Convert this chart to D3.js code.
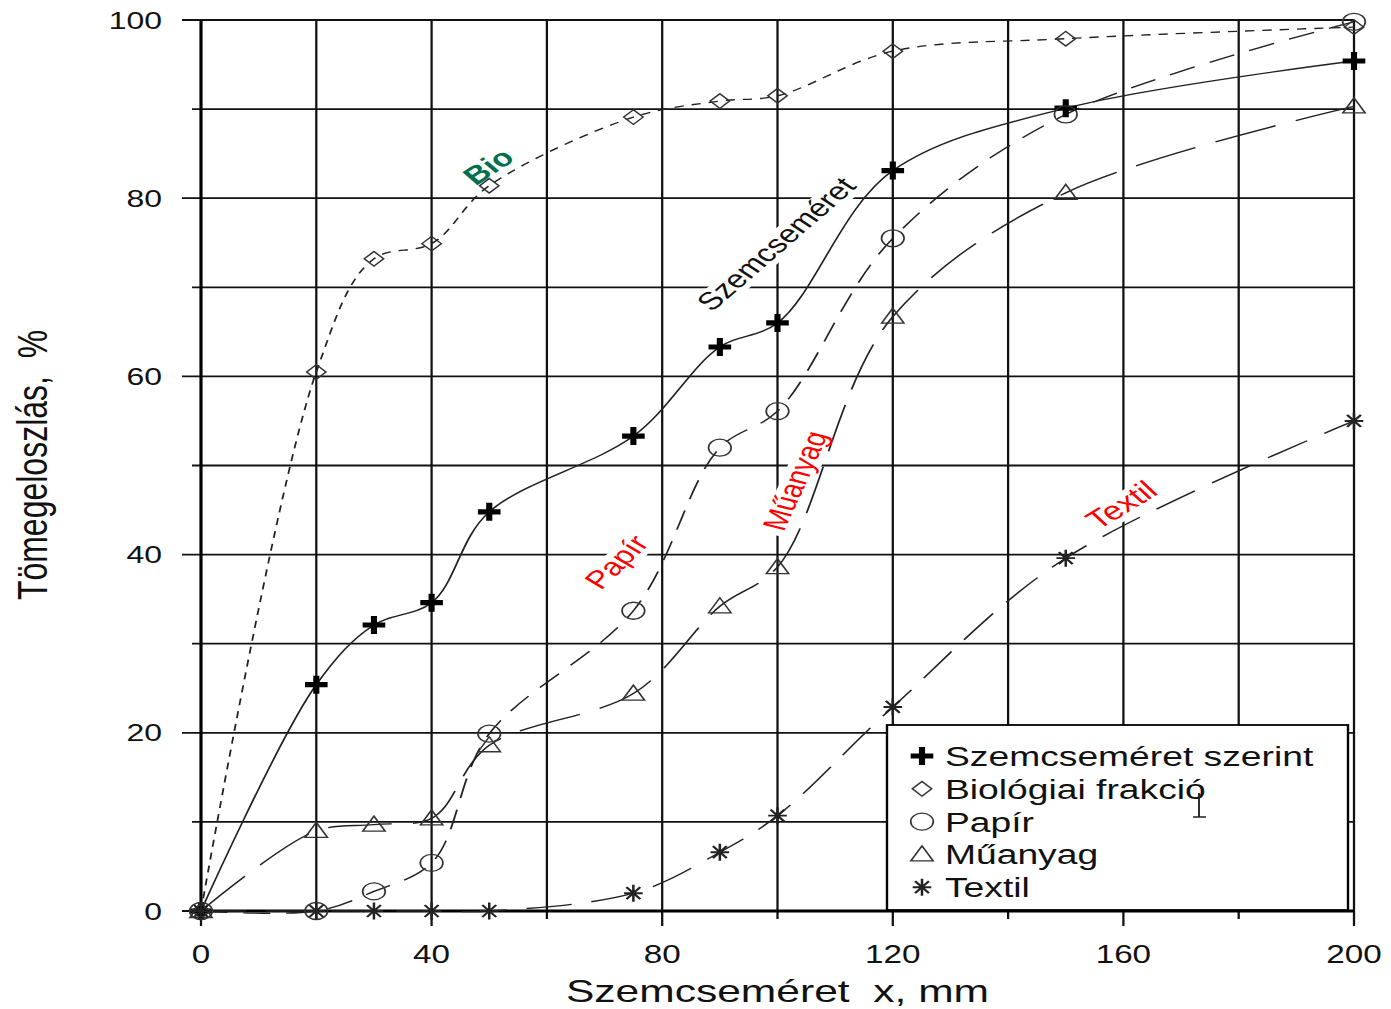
<!DOCTYPE html>
<html>
<head>
<meta charset="utf-8">
<script src="https://cdn.jsdelivr.net/npm/d3@7"></script>
<style>
  body { margin: 0; background: #fff; }
  text { font-family: "Liberation Sans", Arial, sans-serif; white-space: pre; }
</style>
</head>
<body>
<div id="chart"></div>
<script>
// particle sizes (mm) and cumulative mass distribution (%)
var sizes   = [0, 20, 30, 40, 50, 75, 90, 100, 120, 150, 200];
var szemcse = [0, 25.4, 32.1, 34.6, 44.8, 53.3, 63.3, 66.0, 83.1, 90.1, 95.4];
var bio     = [0, 60.5, 73.2, 74.9, 81.4, 89.1, 90.9, 91.5, 96.5, 97.9, 99.2];
var papir   = [0, 0, 2.2, 5.4, 19.9, 33.7, 52.0, 56.1, 75.5, 89.4, 99.8];
var muanyag = [0, 9.0, 9.7, 10.4, 18.6, 24.4, 34.2, 38.6, 66.7, 80.6, 90.3];
var textil  = [0, 0, 0, 0, 0, 2.0, 6.6, 10.7, 22.9, 39.6, 55.0];

var xLabelTicks = [0, 40, 80, 120, 160, 200],
    xGridTicks = [0, 20, 40, 60, 80, 100, 120, 140, 160, 180, 200],
    yLabelTicks = [0, 20, 40, 60, 80, 100],
    yGridTicks = [0, 10, 20, 30, 40, 50, 60, 70, 80, 90, 100];

var legendNames = ["Szemcseméret szerint", "Biológiai frakció", "Papír", "Műanyag", "Textil"];
// curve annotations, anchored in data units
var annoText = ["Bio", "Szemcseméret", "Papír", "Műanyag", "Textil"],
    annoX = [49.8, 99.7, 72, 103, 159.6],
    annoY = [83.6, 74.9, 39.2, 48.3, 45.6];

var width = 1391, height = 1009,
    sx = 1.33;   // the original figure is stretched horizontally

var svg = d3.select("#chart").append("svg")
        .attr("width", width)
        .attr("height", height),
    g = svg.append("g")
        .attr("transform", "scale(" + sx + ",1)");

var x = d3.scaleLinear().domain([0, 200]).range([201 / sx, 1354 / sx]),
    y = d3.scaleLinear().domain([0, 100]).range([911, 20]);

// grid
var grid = g.append("g");
grid.selectAll(".vg").data(xGridTicks).enter().append("line")
    .attr("x1", d => x(d)).attr("x2", d => x(d))
    .attr("y1", y(100)).attr("y2", d => (d % 40 == 0) ? 926 : 919)
    .attr("stroke", "#111").attr("stroke-width", 1.7);
grid.selectAll(".hg").data(yGridTicks).enter().append("line")
    .attr("y1", d => y(d)).attr("y2", d => y(d))
    .attr("x1", d => (d % 20 == 0) ? 182 / sx : 192 / sx).attr("x2", x(200))
    .attr("stroke", "#111").attr("stroke-width", 1.8);
// axes lines
g.append("line").attr("x1", x(0)).attr("x2", x(200)).attr("y1", y(0)).attr("y2", y(0))
    .attr("stroke", "#000").attr("stroke-width", 3);
g.append("line").attr("x1", x(0)).attr("x2", x(0)).attr("y1", y(0)).attr("y2", y(100))
    .attr("stroke", "#000").attr("stroke-width", 2.3);

// tick labels
g.selectAll(".yl").data(yLabelTicks).enter().append("text")
    .attr("x", 162 / sx).attr("y", d => y(d)).attr("dy", "0.36em")
    .attr("text-anchor", "end").attr("font-size", 24).attr("fill", "#111")
    .text(d => d);
g.selectAll(".xl").data(xLabelTicks).enter().append("text")
    .attr("x", d => x(d)).attr("y", 963)
    .attr("text-anchor", "middle").attr("font-size", 25).attr("fill", "#111")
    .text(d => d);

// axis titles
g.append("text")
    .attr("x", x(100)).attr("y", 1002)
    .attr("text-anchor", "middle").attr("font-size", 32).attr("fill", "#111")
    .text("Szemcseméret  x, mm");
g.append("text")
    .attr("transform", "translate(" + (47 / sx) + ",465) rotate(-90)")
    .attr("text-anchor", "middle").attr("font-size", 32).attr("fill", "#111")
    .text("Tömegeloszlás,  %");

// annotation layers: white boxes under curves, text above
var annoBg = g.append("g"),
    curves = g.append("g"),
    annoFg = g.append("g"),
    markers = g.append("g");

var annoStyle = [
    {angle: -41, size: 25, weight: "bold", fill: "#00704f"},
    {angle: -49, size: 25, weight: "normal", fill: "#111"},
    {angle: -52, size: 25, weight: "normal", fill: "#ff0000"},
    {angle: -71, size: 25, weight: "normal", fill: "#ff0000"},
    {angle: -39, size: 26, weight: "normal", fill: "#ff0000"}
];
annoText.forEach(function(t, i) {
    var s = annoStyle[i],
        tr = "translate(" + x(annoX[i]) + "," + y(annoY[i]) + ") rotate(" + s.angle + ")";
    var txt = annoFg.append("text")
        .attr("transform", tr)
        .attr("text-anchor", "middle").attr("dy", "0.36em")
        .attr("font-size", s.size).attr("font-weight", s.weight)
        .attr("fill", s.fill)
        .text(t);
    var bb = txt.node().getBBox();
    annoBg.append("rect")
        .attr("transform", tr)
        .attr("x", bb.x - 5).attr("y", bb.y + 4)
        .attr("width", bb.width + 10).attr("height", bb.height - 4)
        .attr("fill", "#fff");
});

// series
var series = [
    {vals: szemcse, dash: null, shape: "plus"},
    {vals: bio, dash: "7,6", shape: "diamond"},
    {vals: papir, dash: "20,12", shape: "circle"},
    {vals: muanyag, dash: "48,16", shape: "triangle"},
    {vals: textil, dash: "34,15", shape: "star"}
];

var line = d3.line()
    .x(d => x(d[0]))
    .y(d => y(d[1]))
    .curve(d3.curveCatmullRom.alpha(0.5));

series.forEach(function(s) {
    var pts = sizes.map((v, i) => [v, s.vals[i]]);
    curves.append("path")
        .attr("d", line(pts))
        .attr("fill", "none")
        .attr("stroke", "#222")
        .attr("stroke-width", 1.35)
        .attr("stroke-dasharray", s.dash);
});

function drawMarker(sel, shape) {
    if (shape == "plus") {
        sel.append("path")
            .attr("d", "M-8.5,-2.6H-2.3V-9H2.3V-2.6H8.5V2.6H2.3V9H-2.3V2.6H-8.5Z")
            .attr("fill", "#000");
    } else if (shape == "diamond") {
        sel.append("path").attr("d", "M0,-7.3L7.3,0L0,7.3L-7.3,0Z")
            .attr("fill", "none").attr("stroke", "#333").attr("stroke-width", 1.3);
    } else if (shape == "circle") {
        sel.append("circle").attr("r", 8.5)
            .attr("fill", "none").attr("stroke", "#333").attr("stroke-width", 1.3);
    } else if (shape == "triangle") {
        sel.append("path").attr("d", "M0,-8.5L8.4,6.5L-8.4,6.5Z")
            .attr("fill", "none").attr("stroke", "#333").attr("stroke-width", 1.3);
    } else {
        sel.append("path")
            .attr("d", "M-7,0H7M0,-8.5V8.5M-5.2,-6L5.2,6M-5.2,6L5.2,-6")
            .attr("fill", "none").attr("stroke", "#222").attr("stroke-width", 1.9);
    }
}

series.forEach(function(s) {
    sizes.forEach(function(v, i) {
        var m = markers.append("g")
            .attr("transform", "translate(" + x(v) + "," + y(s.vals[i]) + ")");
        drawMarker(m, s.shape);
    });
});

// legend
var legend = g.append("g");
legend.append("rect")
    .attr("x", 887 / sx).attr("y", 725)
    .attr("width", (1348 - 887) / sx).attr("height", 185)
    .attr("fill", "#fff").attr("stroke", "#000").attr("stroke-width", 1.8);
legendNames.forEach(function(name, i) {
    var cy = 756 + i * 32.8;
    var m = legend.append("g")
        .attr("transform", "translate(" + (922 / sx) + "," + cy + ")");
    drawMarker(m, series[i].shape);
    legend.append("text")
        .attr("x", 945 / sx).attr("y", cy).attr("dy", "0.36em")
        .attr("font-size", 28).attr("fill", "#111")
        .text(name);
});
// text cursor left in the legend
legend.append("path")
    .attr("d", "M" + (1199 / sx) + ",793V817M" + (1193 / sx) + ",817H" + (1206 / sx))
    .attr("stroke", "#222").attr("stroke-width", 1.4).attr("fill", "none");
</script>
</body>
</html>
